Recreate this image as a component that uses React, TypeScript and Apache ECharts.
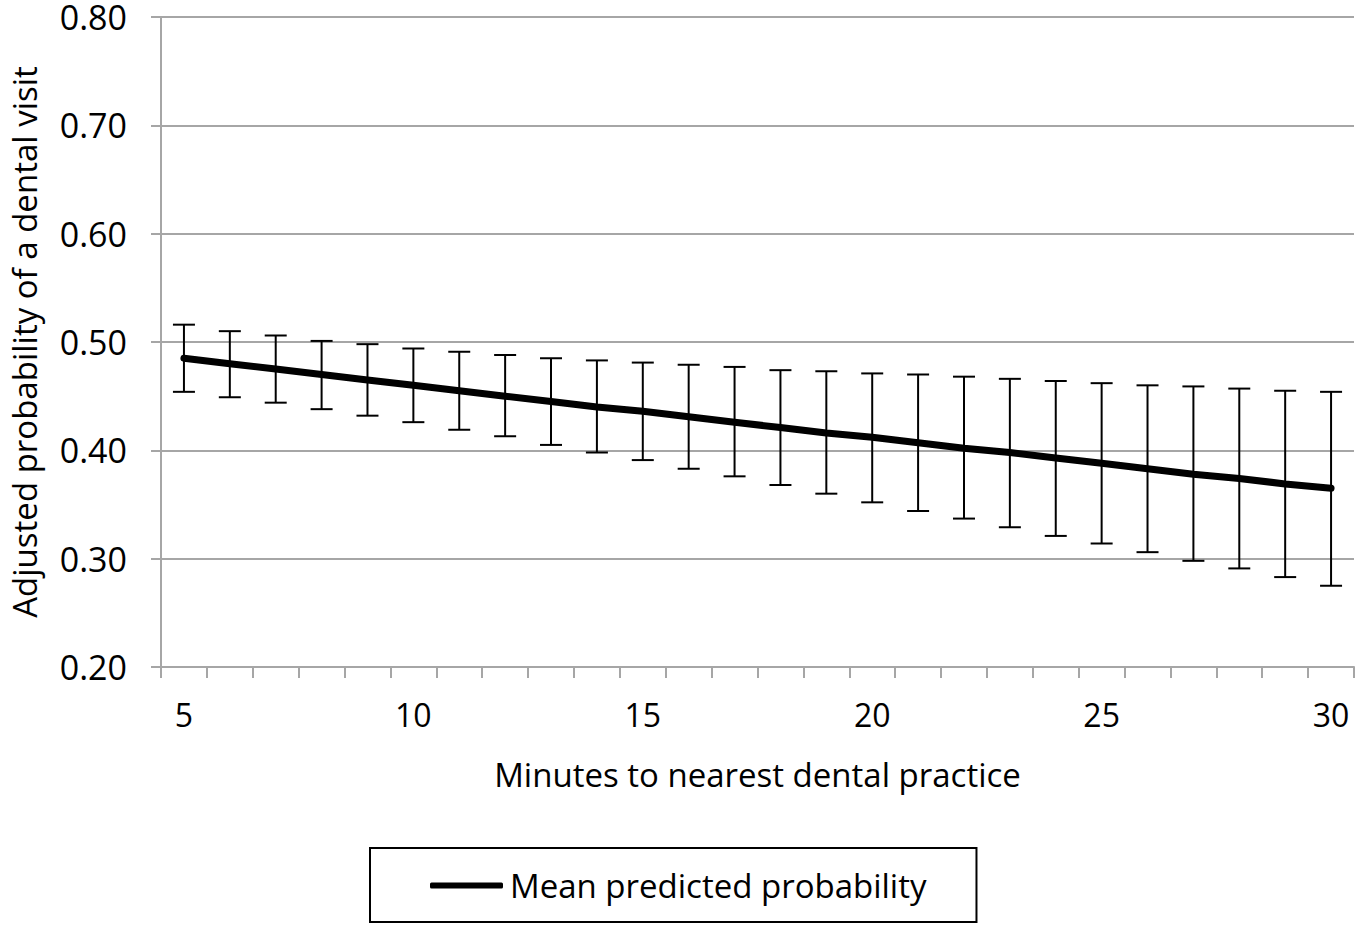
import React, { useEffect, useRef } from "react";
import * as echarts from "echarts";

const minutes = ["5","6","7","8","9","10","11","12","13","14","15","16","17","18","19","20","21","22","23","24","25","26","27","28","29","30"];
const meanProb = [0.485,0.480,0.475,0.470,0.465,0.460,0.455,0.450,0.445,0.440,0.436,0.431,0.426,0.421,0.416,0.412,0.407,0.402,0.398,0.393,0.388,0.383,0.378,0.374,0.369,0.365];
const upperCI = [0.516,0.510,0.506,0.501,0.498,0.494,0.491,0.488,0.485,0.483,0.481,0.479,0.477,0.474,0.473,0.471,0.470,0.468,0.466,0.464,0.462,0.460,0.459,0.457,0.455,0.454];
const lowerCI = [0.454,0.449,0.444,0.438,0.432,0.426,0.419,0.413,0.405,0.398,0.391,0.383,0.376,0.368,0.360,0.352,0.344,0.337,0.329,0.321,0.314,0.306,0.298,0.291,0.283,0.275];
const yTicks = { min: 0.2, max: 0.8, interval: 0.1 };

const FONT = "Open Sans";
const GRAY = "#a6a6a6";

export default function App() {
  const ref = useRef<HTMLDivElement>(null);
  useEffect(() => {
    document.body.style.margin = "0";
    const chart = echarts.init(ref.current!, null, { renderer: "svg" });
    const errData = minutes.map((_, i) => [i, lowerCI[i], upperCI[i]]);
    chart.setOption({
      animation: false,
      textStyle: { fontFamily: FONT },
      grid: { left: 156, right: 14, top: 17, bottom: 258, containLabel: false },
      legend: {
        left: 370,
        top: 848,
        data: [{ name: "Mean predicted probability", icon: "roundRect" }],
        itemWidth: 73,
        itemHeight: 6,
        borderColor: "#000",
        borderWidth: 2,
        padding: [21, 50, 20, 60],
        itemStyle: { color: "#000" },
        textStyle: { fontFamily: FONT, fontSize: 33, color: "#000", padding: [0, 0, 0, 2] },
      },
      xAxis: {
        type: "category",
        data: minutes,
        boundaryGap: true,
        name: "Minutes to nearest dental practice",
        nameLocation: "middle",
        nameGap: 91,
        nameTextStyle: { fontFamily: FONT, fontSize: 33, color: "#000" },
        axisLine: { lineStyle: { color: GRAY, width: 2 } },
        axisTick: { show: true, interval: 0, alignWithLabel: false, length: 11, lineStyle: { color: GRAY, width: 2 } },
        axisLabel: { interval: 4, fontFamily: FONT, fontSize: 32, color: "#000", margin: 31 },
        splitLine: { show: false },
      },
      yAxis: {
        type: "value",
        min: yTicks.min,
        max: yTicks.max,
        interval: yTicks.interval,
        name: "Adjusted probability of a dental visit",
        nameLocation: "middle",
        nameGap: 120,
        nameTextStyle: { fontFamily: FONT, fontSize: 33, color: "#000" },
        axisLine: { show: true, lineStyle: { color: GRAY, width: 2 } },
        axisTick: { show: true, length: 10, lineStyle: { color: GRAY, width: 2 } },
        axisLabel: { fontFamily: FONT, fontSize: 34, lineHeight: 30, color: "#000", margin: 34, formatter: (v: number) => v.toFixed(2) },
        splitLine: { show: true, lineStyle: { color: GRAY, width: 2 } },
      },
      series: [
        {
          type: "custom",
          name: "CI",
          data: errData,
          encode: { x: 0, y: [1, 2] },
          z: 3,
          renderItem: (params: any, api: any) => {
            const i = api.value(0);
            const lo = api.coord([i, api.value(1)]);
            const hi = api.coord([i, api.value(2)]);
            const hw = 11;
            const style = { stroke: "#000", lineWidth: 2 };
            return {
              type: "group",
              children: [
                { type: "line", shape: { x1: lo[0], y1: lo[1], x2: hi[0], y2: hi[1] }, style },
                { type: "line", shape: { x1: hi[0] - hw, y1: hi[1], x2: hi[0] + hw, y2: hi[1] }, style },
                { type: "line", shape: { x1: lo[0] - hw, y1: lo[1], x2: lo[0] + hw, y2: lo[1] }, style },
              ],
            };
          },
        },
        {
          type: "line",
          name: "Mean predicted probability",
          data: meanProb,
          symbol: "none",
          z: 4,
          lineStyle: { color: "#000", width: 7, cap: "round" },
          itemStyle: { color: "#000" },
        },
      ],
    });
    return () => chart.dispose();
  }, []);
  return <div ref={ref} style={{ width: 1368, height: 925 }} />;
}
